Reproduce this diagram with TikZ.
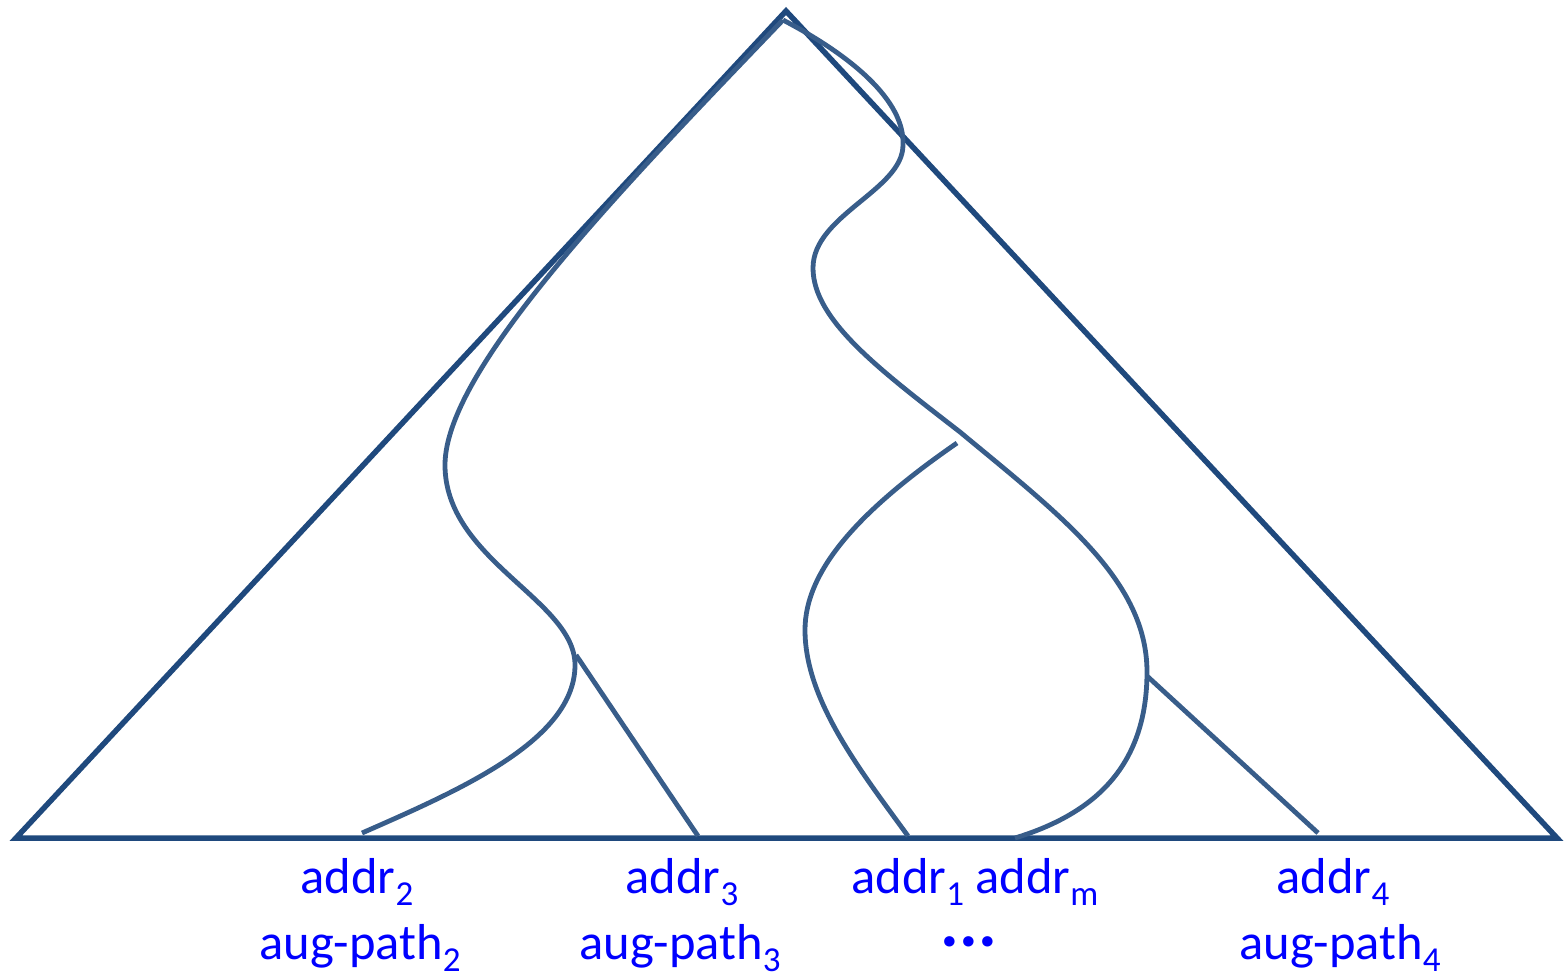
\documentclass[tikz,border=0pt]{standalone}
\usepackage{fontspec}
\setmainfont{Carlito}
\definecolor{tricol}{RGB}{31,73,125}
\definecolor{crvcol}{RGB}{56,93,138}
\definecolor{lblcol}{RGB}{0,0,255}
\newcommand\sbx[1]{\raisebox{-12pt}{\fontsize{35}{35}\selectfont #1}}
\begin{document}
\begin{tikzpicture}[x=1pt,y=-1pt,
  tri/.style={draw=tricol,line width=5.5pt,line join=miter},
  crv/.style={draw=crvcol,line width=4.8pt},
  lab/.style={text=lblcol,font=\fontsize{50.5}{60}\selectfont,anchor=base,inner sep=0pt}]
\useasboundingbox (0,0) rectangle (1564,978);
% triangle
\coordinate (apex) at (786,11);
\coordinate (bl) at (16,838);
\coordinate (br) at (1557,838);
\draw[tri] (apex) -- (bl) -- (br) -- cycle;
% curve points
\coordinate (s) at (783,20);
\coordinate (l1) at (445,465);
\coordinate (l2) at (575,665);
\coordinate (l3) at (362,833);
\coordinate (j3) at (576,655);
\coordinate (e3) at (698,836);
\coordinate (r1) at (903,145);
\coordinate (r2) at (813,268);
\coordinate (r3) at (960,432);
\coordinate (r4) at (1147,672);
\coordinate (r5) at (1015,838);
\coordinate (j4) at (1147,676);
\coordinate (e4) at (1318,833);
\coordinate (m0) at (957,443);
\coordinate (m1) at (805,630);
\coordinate (m2) at (908,836);
% left path
\draw[crv] (s) .. controls (620,190) and (445,370) .. (l1)
  .. controls (445,560) and (575,600) .. (l2)
  .. controls (575,740) and (460,790) .. (l3);
\draw[crv] (j3) -- (e3);
% right path
\draw[crv] (s) .. controls (850,55) and (905,100) .. (r1)
  .. controls (903,190) and (813,215) .. (r2)
  .. controls (813,320) and (880,370) .. (r3)
  .. controls (1060,515) and (1147,580) .. (r4)
  .. controls (1147,770) and (1090,815) .. (r5);
\draw[crv] (j4) -- (e4);
% middle path
\draw[crv] (m0) .. controls (860,510) and (805,570) .. (m1)
  .. controls (805,700) and (860,770) .. (m2);
% labels
\node[lab] (a2) at (357,893) {addr\sbx{2}};
\node[lab] (p2) at (360,959) {aug-path\sbx{2}};
\node[lab] (a3) at (682,893) {addr\sbx{3}};
\node[lab] (p3) at (680,959) {aug-path\sbx{3}};
\node[lab] (a1m) at (975,893) {addr\sbx{1} addr\sbx{m}};
\node[lab,text height=12pt,text depth=0pt] (dots) at (969,946) {\fontsize{70}{70}\selectfont\bfseries ...};
\node[lab] (a4) at (1333,893) {addr\sbx{4}};
\node[lab] (p4) at (1340,959) {aug-path\sbx{4}};
\end{tikzpicture}
\end{document}
